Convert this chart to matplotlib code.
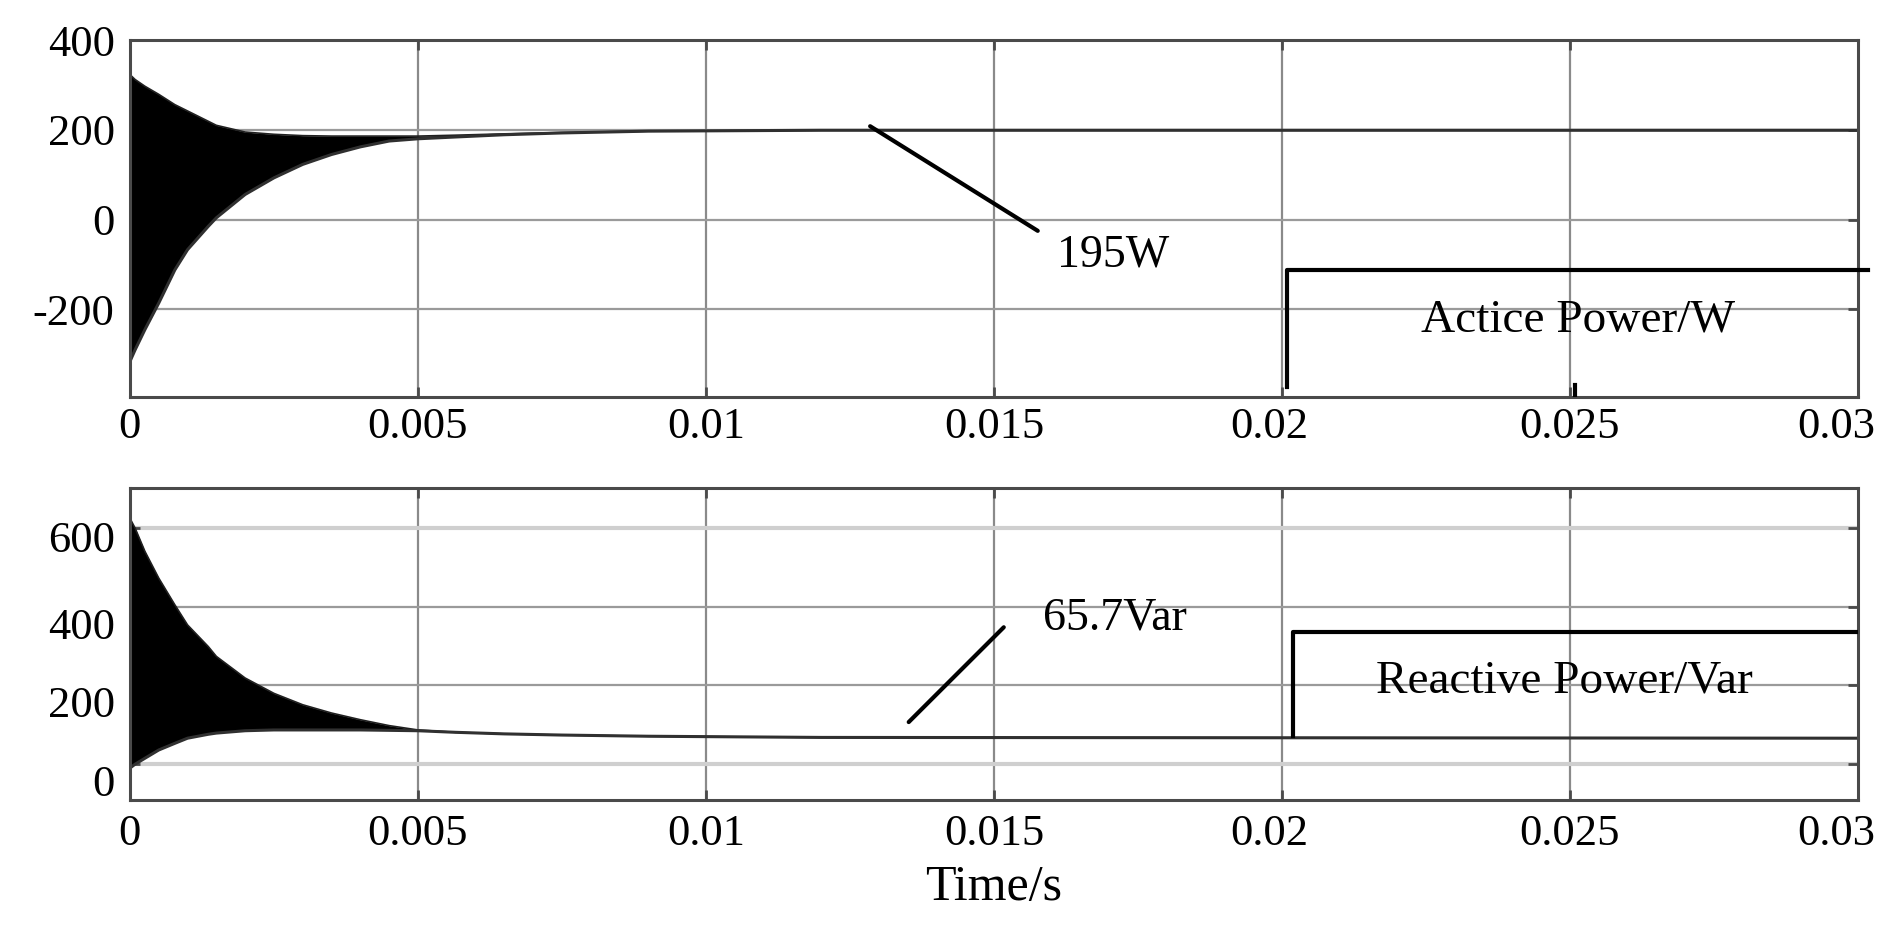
import matplotlib
matplotlib.use("Agg")
import matplotlib.pyplot as plt
from matplotlib.transforms import ScaledTranslation

plt.rcParams['font.family'] = ['Liberation Serif', 'DejaVu Serif']

# envelope of the simulated traces
t_env = [0, 0.00009, 0.00026, 0.0005, 0.00078, 0.001, 0.00136, 0.0015, 0.002,
         0.0025, 0.003, 0.0035, 0.004, 0.0045, 0.005, 0.00565, 0.0065, 0.0075,
         0.009, 0.012, 0.03]
p_upper = [323, 312, 297, 279, 256, 242, 219, 210, 195, 190, 187, 186, 186, 186,
           186, 188, 191, 194, 197, 199, 199]
p_lower = [-316, -290, -245, -186, -112, -67, -15, 4, 56, 93, 123, 145, 162, 175,
           180, 184, 189, 193, 197, 199, 199]
q_upper = [625, 600, 541, 473, 405, 354, 299, 274, 219, 180, 151, 130, 113, 98,
           87, 81, 77, 74, 71, 68, 66]
q_lower = [-10, 0, 15, 36, 53, 66, 76, 79, 85, 87, 87, 87, 87, 86, 85, 81, 77, 74,
           71, 68, 66]

# legend-like step lines, marks and leader lines
p_step_t = [0.02009, 0.02009, 0.03017]
p_step_y = [-373, -112, -112]
p_mark_t = [0.02509, 0.02509]
p_mark_y = [-369, -395]
q_step_t = [0.02019, 0.02019, 0.03]
q_step_y = [71, 335, 335]
p_lead_t = [0.01285, 0.01576]
p_lead_y = [208, -25]
q_lead_t = [0.01352, 0.01517]
q_lead_y = [107, 348]

x_ticks = [0, 0.005, 0.01, 0.015, 0.02, 0.025, 0.03]
x_labels = ["0", "0.005", "0.01", "0.015", "0.02", "0.025", "0.03"]
x_label_dx = [0, 0, 0, 0, -13, 0, -22]   # pixel nudges of the tick labels
p_ticks = [-200, 0, 200, 400]
q_ticks = [0, 200, 400, 600]
q_label_dy = [16, 16, 17, 8]             # reactive labels sit below their gridlines

fig = plt.figure(figsize=(18.94, 9.26), dpi=100)
ax1 = fig.add_axes([0.0686, 0.5713, 0.9124, 0.3855])
ax2 = fig.add_axes([0.0686, 0.1361, 0.9124, 0.3369])

spine_c = "#4a4a4a"
grid_c = "#9a9a9a"

for ax, xpad in ((ax1, 7), (ax2, 10)):
    ax.set_xlim(0, 0.03)
    ax.set_xticks(x_ticks)
    ax.set_xticklabels(x_labels)
    for s in ax.spines.values():
        s.set_color(spine_c)
        s.set_linewidth(2.2)
    ax.tick_params(axis="both", direction="in", length=7, width=2, color=spine_c,
                   top=True, right=True, labelsize=32)
    ax.tick_params(axis="y", pad=11)
    ax.tick_params(axis="x", pad=xpad)
    for x in x_ticks[1:-1]:
        ax.axvline(x, color="#8a8a8a", lw=1.6, zorder=0)

# top: active power
ax1.set_ylim(-395, 400)
ax1.set_yticks(p_ticks)
ax1.set_yticklabels(["-200", "0", "200", "400"])
for y in p_ticks[:-1]:
    ax1.axhline(y, color=grid_c, lw=1.6, zorder=0)
ax1.fill_between(t_env, p_lower, p_upper, color="black", lw=0, zorder=2)
ax1.plot(t_env, p_upper, color="#202020", lw=1.2, zorder=2)
ax1.plot(t_env, p_lower, color="#303030", lw=2.2, zorder=2)
ax1.plot(p_step_t, p_step_y, color="black", lw=3, clip_on=False, zorder=3)
ax1.plot(p_mark_t, p_mark_y, color="black", lw=3, zorder=3)
ax1.plot(p_lead_t, p_lead_y, color="black", lw=3, solid_capstyle="round", zorder=3)
ax1.text(0.01609, -105, "195W", fontsize=33, va="baseline", ha="left")
ax1.text(0.02514, -250, "Actice Power/W", fontsize=34, va="baseline", ha="center")

# bottom: reactive power
ax2.set_ylim(-91, 702)
ax2.set_yticks(q_ticks)
ax2.set_yticklabels(["0", "200", "400", "600"])
for y in q_ticks:
    if y in (0, 600):
        ax2.axhline(y, color="#cfcfcf", lw=3, zorder=0)
    else:
        ax2.axhline(y, color=grid_c, lw=1.6, zorder=0)
ax2.fill_between(t_env, q_lower, q_upper, color="black", lw=0, zorder=2)
ax2.plot(t_env, q_upper, color="#202020", lw=1.2, zorder=2)
ax2.plot(t_env, q_lower, color="#303030", lw=2.2, zorder=2)
ax2.plot(q_step_t, q_step_y, color="black", lw=3, zorder=3)
ax2.plot(q_lead_t, q_lead_y, color="black", lw=3, solid_capstyle="round", zorder=3)
ax2.text(0.01585, 343, "65.7Var", fontsize=33, va="baseline", ha="left")
ax2.text(0.02491, 183, "Reactive Power/Var", fontsize=34, va="baseline", ha="center")

fig.text(0.5248, 0.0281, "Time/s", fontsize=36, ha="center", va="baseline")

# label nudges last, after every tick_params call
for ax in (ax1, ax2):
    for lab, dx in zip(ax.get_xticklabels(), x_label_dx):
        lab.set_transform(lab.get_transform() + ScaledTranslation(dx / 100, 0, fig.dpi_scale_trans))
for lab, dy in zip(ax2.get_yticklabels(), q_label_dy):
    lab.set_transform(lab.get_transform() + ScaledTranslation(0, -dy / 100, fig.dpi_scale_trans))

fig.savefig("out.png", dpi=100)
